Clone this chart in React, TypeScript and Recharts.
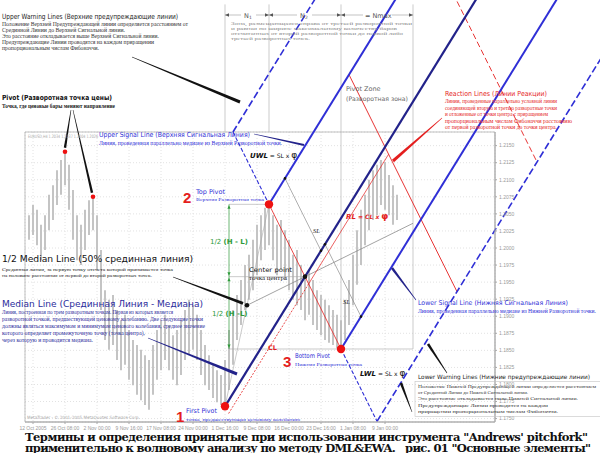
import React from 'react';
import {
  Bar,
  CartesianGrid,
  ComposedChart,
  ReferenceArea,
  ReferenceDot,
  ReferenceLine,
  XAxis,
  YAxis,
} from 'recharts';

// ---- values (EURUSD H4, compressed) ----
const barHigh = [
  1.2048, 1.2063, 1.2056, 1.2034, 1.2048, 1.2078, 1.2092, 1.2114, 1.2129, 1.2141,
  1.2122, 1.2085, 1.2048, 1.2034, 1.2056, 1.207, 1.2075, 1.2048, 1.1997, 1.1938,
  1.1924, 1.1931, 1.1909, 1.1894, 1.1902, 1.188, 1.1865, 1.1858, 1.1851, 1.1843,
  1.1836, 1.1858, 1.188, 1.1894, 1.1902, 1.1887, 1.1872, 1.188, 1.1894, 1.1909,
  1.1924, 1.1916, 1.1902, 1.188, 1.1858, 1.1843, 1.1829, 1.1821, 1.1814, 1.1836,
  1.188, 1.1909, 1.1931, 1.1953, 1.1975, 1.199, 1.2012, 1.2034, 1.2048, 1.2059,
  1.2064, 1.2048, 1.2034, 1.2041, 1.2026, 1.2012, 1.199, 1.1997, 1.1975, 1.196,
  1.1968, 1.1953, 1.1938, 1.1931, 1.1924, 1.1916, 1.1909, 1.1902, 1.1894, 1.1924,
  1.1953, 1.199, 1.2026, 1.2056, 1.2078, 1.21, 1.2114, 1.2122, 1.2129, 1.2126,
  1.2107, 1.2092, 1.2078,
];
const barLow = [
  1.2012, 1.2019, 1.2004, 1.1982, 1.1997, 1.2026, 1.2041, 1.2063, 1.2078, 1.2092,
  1.2056, 1.2012, 1.1982, 1.1975, 1.1997, 1.2019, 1.2026, 1.1968, 1.1909, 1.1865,
  1.1851, 1.1858, 1.1836, 1.1821, 1.1829, 1.1807, 1.1799, 1.1785, 1.1777, 1.177,
  1.1763, 1.1785, 1.1807, 1.1821, 1.1836, 1.1821, 1.1807, 1.1799, 1.1814, 1.1836,
  1.1843, 1.1851, 1.1836, 1.1814, 1.1799, 1.1792, 1.178, 1.1774, 1.177, 1.1768,
  1.1792, 1.1829, 1.1865, 1.1887, 1.1909, 1.1924, 1.1938, 1.196, 1.1982, 1.1997,
  1.2004, 1.1982, 1.196, 1.1968, 1.1953, 1.1938, 1.1924, 1.1916, 1.1909, 1.1894,
  1.1902, 1.1887, 1.188, 1.1872, 1.1865, 1.1861, 1.1858, 1.1853, 1.1852, 1.1865,
  1.1887, 1.1916, 1.1946, 1.1975, 1.2004, 1.2026, 1.2041, 1.2048, 1.2063, 1.2056,
  1.2048, 1.2034, 1.2041,
];
const dateTicks = [2, 10, 18, 26, 34, 42, 50, 58, 66, 74, 82, 90];
const dateLabels = [
  '12 Oct 2005', '26 Oct 08:00', '2 Nov 00:00', '9 Nov 16:00', '17 Nov 08:00', '24 Nov 00:00',
  '1 Dec 16:00', '9 Dec 08:00', '16 Dec 00:00', '23 Dec 16:00', '1 Jan 08:00', '9 Jan 00:00',
];
const priceTicks = [
  1.215, 1.2125, 1.21, 1.2075, 1.205, 1.2025, 1.2, 1.1975, 1.195, 1.1925, 1.19, 1.1875,
  1.185, 1.1825, 1.18, 1.1775, 1.175,
];
const pivotIndex = [50, 61, 79];
const pivotPrice = [1.1768, 1.2064, 1.1852];
const swingIndex = [10, 17];
const swingPrice = [1.2141, 1.2075];
const reactionSteps = [1, 2];

// ---- layout ----
const W = 600;
const H = 453;
const M_LEFT = 25;
const M_TOP = 132;
const PLOT_W = 470;
const PLOT_H = 290;
const X_DOMAIN: [number, number] = [0, 117.5];
const Y_DOMAIN: [number, number] = [1.1745, 1.217];
const SKY = 1.2375; // a bit above the top edge of the picture
const ZONE_TOP = 1.2357;
const DIM_X = 51;

const SANS = "'DejaVu Sans', Verdana, sans-serif";
const SERIF = "'Liberation Serif', 'Times New Roman', serif";
const BLUE = '#2f2fd6';
const NAVY = '#22228a';
const RED = '#e41e1e';
const GREEN = '#2e9a3a';
const GREY = '#8c8c8c';

const bars = barHigh.map((h, k) => ({ i: k + 1, range: [barLow[k], h] }));

// same linear mapping as the chart, for annotation placement
const px = (i: number) => M_LEFT + ((i - X_DOMAIN[0]) / (X_DOMAIN[1] - X_DOMAIN[0])) * PLOT_W;
const py = (p: number) => M_TOP + ((Y_DOMAIN[1] - p) / (Y_DOMAIN[1] - Y_DOMAIN[0])) * PLOT_H;

// ---- pitchfork geometry (data space) ----
type Pt = { x: number; y: number };
const P1: Pt = { x: pivotIndex[0], y: pivotPrice[0] };
const P2: Pt = { x: pivotIndex[1], y: pivotPrice[1] };
const P3: Pt = { x: pivotIndex[2], y: pivotPrice[2] };
const C: Pt = { x: (P2.x + P3.x) / 2, y: (P2.y + P3.y) / 2 };
const D: Pt = { x: C.x - P1.x, y: C.y - P1.y };
const E: Pt = { x: P3.x - P2.x, y: P3.y - P2.y };
const at = (a: number, b: number): Pt => ({
  x: C.x + a * D.x + b * E.x,
  y: C.y + a * D.y + b * E.y,
});
const skyA = (b: number) => (SKY - C.y - b * E.y) / D.y;
const HALF: Pt = { x: (P1.x + P2.x) / 2, y: (P1.y + P2.y) / 2 };
const ZONE_END = P3.x + Math.max(P2.x - P1.x, P3.x - P2.x);
const halfT = (ZONE_END - HALF.x) / (C.x - HALF.x);
const halfEnd: Pt = { x: HALF.x + halfT * (C.x - HALF.x), y: HALF.y + halfT * (C.y - HALF.y) };

type Seg = { key: string; a: Pt; b: Pt; stroke: string; width: number; dash?: string };
const segs: Seg[] = [
  { key: 'n1', a: { x: P1.x, y: ZONE_TOP }, b: { x: P1.x, y: Y_DOMAIN[1] }, stroke: '#b4b4b4', width: 0.7 },
  { key: 'n2', a: { x: P2.x, y: ZONE_TOP }, b: { x: P2.x, y: Y_DOMAIN[1] }, stroke: '#b4b4b4', width: 0.7 },
  { key: 'z1', a: { x: P3.x, y: ZONE_TOP }, b: P3, stroke: '#b4b4b4', width: 0.7 },
  { key: 'z2', a: { x: ZONE_END, y: ZONE_TOP }, b: { x: ZONE_END, y: P3.y }, stroke: '#b4b4b4', width: 0.7 },
  { key: 'z3', a: P3, b: { x: ZONE_END, y: P3.y }, stroke: '#b4b4b4', width: 0.7 },
  { key: 'h2', a: { x: DIM_X, y: P2.y }, b: P2, stroke: '#a8a8a8', width: 0.6 },
  { key: 'hc', a: { x: DIM_X, y: C.y }, b: C, stroke: '#a8a8a8', width: 0.6 },
  { key: 'h3', a: { x: DIM_X, y: P3.y }, b: P3, stroke: '#a8a8a8', width: 0.6 },
  { key: 'g1', a: { x: DIM_X, y: P2.y }, b: { x: DIM_X, y: C.y }, stroke: GREEN, width: 0.7 },
  { key: 'g2', a: { x: DIM_X, y: C.y }, b: { x: DIM_X, y: P3.y }, stroke: GREEN, width: 0.7 },
  { key: 'p12', a: P1, b: P2, stroke: '#a8a8a8', width: 0.6 },
  { key: 'half', a: HALF, b: halfEnd, stroke: GREY, width: 0.8 },
  { key: 'sl1', a: at(0.2, -0.5), b: at(0.2, 0), stroke: GREY, width: 0.7 },
  { key: 'sl2', a: at(0.25, 0), b: at(0.25, 0.5), stroke: GREY, width: 0.7 },
  { key: 'cl1', a: at(-1, 0.05), b: at(0, 0.05), stroke: RED, width: 0.8, dash: '2 1.5' },
  { key: 'cl2', a: at(0, 0.05), b: at(1, 0.05), stroke: RED, width: 0.7 },
  { key: 'wu', a: at(0, -1), b: P2, stroke: BLUE, width: 1.1, dash: '4 2' },
  { key: 'p23', a: P2, b: P3, stroke: RED, width: 0.8 },
  { key: 'wl', a: P3, b: at(0, 1), stroke: BLUE, width: 1.1, dash: '4 2' },
  ...reactionSteps.map((k) => ({
    key: `rl${k}`,
    a: at(k, -0.5),
    b: at(k, 1),
    stroke: RED,
    width: 0.9,
    dash: k > 1 ? '6 3' : undefined,
  })),
  { key: 'uwl', a: at(0, -1), b: at(skyA(-1), -1), stroke: BLUE, width: 1.6, dash: '7 3' },
  { key: 'lwl', a: at(0, 1), b: at(skyA(1), 1), stroke: BLUE, width: 1.6, dash: '7 3' },
  { key: 'usl', a: P2, b: at(skyA(-0.5), -0.5), stroke: BLUE, width: 2 },
  { key: 'lsl', a: P3, b: at(skyA(0.5), 0.5), stroke: BLUE, width: 2 },
  { key: 'ml', a: P1, b: at(skyA(0), 0), stroke: NAVY, width: 2.2 },
];

const dimEnds = [at(0.2, -0.5), at(0.2, 0), at(0.25, 0), at(0.25, 0.5)];

// ---- annotation helpers ----
const taper = (x1: number, y1: number, x2: number, y2: number, w: number) => {
  const dx = x2 - x1;
  const dy = y2 - y1;
  const l = Math.hypot(dx, dy);
  const nx = -dy / l;
  const ny = dx / l;
  const a = 0.25;
  const b = w / 2;
  return `${x1 + nx * a},${y1 + ny * a} ${x2 + nx * b},${y2 + ny * b} ${x2 - nx * b},${y2 - ny * b} ${x1 - nx * a},${y1 - ny * a}`;
};
const triH = (tip: number, y: number, dir: number) =>
  `${tip},${y} ${tip - dir * 4},${y - 1.7} ${tip - dir * 4},${y + 1.7}`;
const triV = (x: number, tip: number, dir: number) =>
  `${x},${tip} ${x - 1.6},${tip - dir * 3.5} ${x + 1.6},${tip - dir * 3.5}`;

type TxtProps = {
  x: number;
  y: number;
  s: number;
  c?: string;
  f?: string;
  w?: number;
  bold?: boolean;
  italic?: boolean;
  adj?: string;
  children: React.ReactNode;
};
const Txt = ({ x, y, s, c = '#222', f = SANS, w, bold, italic, adj = 'spacingAndGlyphs', children }: TxtProps) => (
  <text
    x={x}
    y={y}
    fontSize={s}
    fill={c}
    fontFamily={f}
    fontWeight={bold ? 700 : 400}
    fontStyle={italic ? 'italic' : 'normal'}
    textLength={w}
    lengthAdjust={w ? adj : undefined}
  >
    {children}
  </text>
);

const Lines = ({ x, y, dy, s, c, lines, widths }: { x: number; y: number; dy: number; s: number; c: string; lines: string[]; widths: number[] }) => (
  <>
    {lines.map((t, k) => (
      <Txt key={k} x={x} y={y + k * dy} s={s} c={c} f={SERIF} w={widths[k]}>
        {t}
      </Txt>
    ))}
  </>
);

const pointers = [
  { a: [132, 57], b: [240, 102], w: 3, c: '#111' },
  { a: [71, 110], b: [px(swingIndex[0]), py(swingPrice[0]) - 4], w: 2.4, c: '#111' },
  { a: [73, 110], b: [px(swingIndex[1]) - 1, py(swingPrice[1]) - 4], w: 2.4, c: '#111' },
  { a: [254, 134], b: [304, 145], w: 2.2, c: NAVY },
  { a: [173, 277], b: [px(HALF.x) - 4, py(HALF.y) - 2], w: 3, c: '#111' },
  { a: [148, 338], b: [237, 374], w: 3, c: NAVY },
  { a: [416, 300], b: [392, 268], w: 2.6, c: NAVY },
  { a: [447, 373], b: [428, 344], w: 2.6, c: '#111' },
  { a: [412, 412], b: [401, 383], w: 2.6, c: '#111' },
  { a: [442, 118], b: [393, 161], w: 3, c: RED },
];

const Overlay = () => {
  const gx = px(DIM_X);
  const nY = 15;
  const x1 = px(P1.x);
  const x2 = px(P2.x);
  const x3 = px(P3.x);
  const x4 = px(ZONE_END);
  return (
    <svg width={W} height={H} style={{ position: 'absolute', left: 0, top: 0, pointerEvents: 'none' }}>
      {/* pointers */}
      {pointers.map((p, k) => (
        <polygon key={k} points={taper(p.a[0], p.a[1], p.b[0], p.b[1], p.w)} fill={p.c} />
      ))}

      {/* N1 / N2 / Nmax row */}
      <g stroke="#9a9a9a" strokeWidth={0.6}>
        <line x1={x1} y1={nY} x2={241} y2={nY} />
        <line x1={256} y1={nY} x2={297} y2={nY} />
        <line x1={312} y1={nY} x2={363} y2={nY} />
        <line x1={392} y1={nY} x2={x4} y2={nY} />
      </g>
      <g fill="#555">
        <polygon points={triH(x1, nY, -1)} />
        <polygon points={triH(x2, nY, 1)} />
        <polygon points={triH(x2, nY, -1)} />
        <polygon points={triH(x3, nY, 1)} />
        <polygon points={triH(x3, nY, -1)} />
        <polygon points={triH(x4, nY, 1)} />
      </g>
      <text x={244} y={17.5} fontSize={6.5} fill="#555" fontFamily={SANS}>
        N<tspan fontSize={4.5} dy={1}>1</tspan>
      </text>
      <text x={300} y={17.5} fontSize={6.5} fill="#555" fontFamily={SANS}>
        N<tspan fontSize={4.5} dy={1}>2</tspan>
      </text>
      <Txt x={365} y={17.5} s={6.5} c="#555">= Nmax</Txt>

      {/* green half-range arrows */}
      <g fill={GREEN}>
        <polygon points={triV(gx, py(P2.y) + 1, -1)} />
        <polygon points={triV(gx, py(C.y) - 1, 1)} />
        <polygon points={triV(gx, py(C.y) + 1, -1)} />
        <polygon points={triV(gx, py(P3.y) - 1, 1)} />
      </g>

      {/* top left: upper warning lines */}
      <Txt x={2} y={19} s={7.2} w={176}>Upper Warning Lines (Верхние предупреждающие линии)</Txt>
      <Lines
        x={2}
        y={26}
        dy={6}
        s={5.4}
        c="#333"
        widths={[186, 123, 157, 152, 97]}
        lines={[
          'Положение Верхней Предупреждающей линии определяется расстоянием от',
          'Срединной Линии до Верхней Сигнальной линии.',
          'Это расстояние откладывается выше Верхней Сигнальной линии.',
          'Предупреждающие Линии проводятся на каждом приращении',
          'пропорциональным числам Фибоначчи.',
        ]}
      />

      {/* pivot zone description */}
      <Lines
        x={231}
        y={24.5}
        dy={5}
        s={4.8}
        c="#8a8a8a"
        widths={[181, 166, 172, 79]}
        lines={[
          'Зона, размещающаяся справа от третьей разворотной точки',
          'и равная по ширине максимальному количеству баров',
          'отсчитанных от второй разворотной точки до первой либо',
          'третьей разворотных точек.',
        ]}
      />
      <Txt x={346} y={91} s={6.5} c="#666">Pivot Zone</Txt>
      <Txt x={346} y={101} s={6.2} c="#666" w={62}>(Разворотная зона)</Txt>

      {/* pivot */}
      <Txt x={2} y={100} s={7} c="#111" bold w={110}>Pivot (Разворотная точка цены)</Txt>
      <Txt x={2} y={107.5} s={5.3} c="#222" f={SERIF} bold w={113}>Точка, где ценовые бары меняют направление</Txt>

      <Txt x={28} y={137.5} s={4.6} c="#aaa" w={70}>EURUSD,H4 1.2034 1.2037 1.2004 1.2026</Txt>

      {/* upper signal line */}
      <Txt x={99} y={137} s={7} c={BLUE} w={151}>Upper Signal Line (Верхняя Сигнальная Линия)</Txt>
      <Txt x={99} y={145} s={5.3} c={BLUE} f={SERIF} w={183}>Линия, проведенная параллельно медиане из Верхней Разворотной точки.</Txt>

      <text x={250} y={157.5} fill="#111" fontFamily={SANS}>
        <tspan fontSize={7} fontWeight={700} fontStyle="italic">UWL</tspan>
        <tspan fontSize={6}> = SL x </tspan>
        <tspan fontSize={9}>φ</tspan>
      </text>

      {/* top pivot */}
      <Txt x={183} y={203} s={15} c={RED} f="'Liberation Sans', Arial, sans-serif" bold>2</Txt>
      <Txt x={196} y={194} s={6.5} c={BLUE}>Top Pivot</Txt>
      <Txt x={196} y={201} s={5} c={BLUE} f={SERIF} w={68}>Верхняя Разворотная точка</Txt>

      <text x={210} y={244} fontSize={7} fill={GREEN} fontFamily={SANS}>
        1/2 <tspan fontWeight={700}>(H - L)</tspan>
      </text>
      <text x={212} y={316} fontSize={7} fill={GREEN} fontFamily={SANS}>
        1/2 <tspan fontWeight={700}>(H -L)</tspan>
      </text>

      {/* half median */}
      <Txt x={2} y={262} s={9.5} c="#111" w={191}>1/2 Median Line (50% срединная линия)</Txt>
      <Lines
        x={2}
        y={271}
        dy={5.5}
        s={5}
        c="#222"
        widths={[171, 150]}
        lines={[
          'Срединная линия, за первую точку отсчета которой принимается точка',
          'на половине расстояния от первой до второй разворотных точек.',
        ]}
      />

      <Txt x={249} y={272} s={6.3} c="#111" w={43}>Center point</Txt>
      <Txt x={249} y={280} s={5.3} c="#222" f={SERIF} w={38}>точка центра</Txt>

      {/* median */}
      <Txt x={2} y={307} s={9.5} c="#2b2b9b" w={201}>Median Line (Срединная Линия - Медиана)</Txt>
      <Lines
        x={2}
        y={313.5}
        dy={7}
        s={5.6}
        c="#2b2b9b"
        widths={[171, 201, 203, 143, 91]}
        lines={[
          'Линия, построенная по трем разворотным точкам. Первая из которых является',
          'разворотной точкой, предшествующей ценовому колебанию. Две следующие точки',
          'должны являться максимумом и минимумом ценового колебания, среднее значение',
          'которого определяет промежуточную точку (точка центра),',
          'через которую и проводится медиана.',
        ]}
      />

      <Txt x={268} y={350} s={6.5} c={RED} bold>CL</Txt>

      {/* bottom pivot */}
      <Txt x={283} y={367} s={15} c={RED} f="'Liberation Sans', Arial, sans-serif" bold>3</Txt>
      <Txt x={295} y={358} s={6.5} c={BLUE} w={35}>Bottom Pivot</Txt>
      <Txt x={295} y={365.5} s={5} c={BLUE} f={SERIF} w={67}>Нижняя Разворотная точка</Txt>

      <Txt x={313} y={233} s={6.5} c="#222" f={SERIF} italic>SL</Txt>
      <Txt x={343} y={304} s={6.5} c="#222" f={SERIF} italic>SL</Txt>

      <text x={346} y={219} fill={RED} fontFamily={SANS} fontWeight={700} fontStyle="italic">
        <tspan fontSize={7}>RL</tspan>
        <tspan fontSize={6}> = CL x </tspan>
        <tspan fontSize={9} fontStyle="normal">φ</tspan>
      </text>

      <text x={360} y={376} fill="#111" fontFamily={SANS}>
        <tspan fontSize={7} fontWeight={700} fontStyle="italic">LWL</tspan>
        <tspan fontSize={6}> = SL x </tspan>
        <tspan fontSize={9}>φ</tspan>
      </text>

      {/* first pivot */}
      <Txt x={176} y={422} s={15} c={RED} f="'Liberation Sans', Arial, sans-serif" bold>1</Txt>
      <Txt x={186} y={413} s={6.5} c={BLUE} w={31}>First Pivot</Txt>
      <Txt x={186} y={421} s={5} c={BLUE} f={SERIF} w={114}>точка, предшествующая ценовому колебанию</Txt>

      <Txt x={27} y={418.5} s={4.4} c="#aaa" w={113}>MetaTrader - © 2001-2005 MetaQuotes Software Corp.</Txt>

      {/* reaction lines */}
      <Txt x={445} y={96} s={7} c="#e52525" w={102}>Reaction Lines (Линии Реакции)</Txt>
      <Lines
        x={445}
        y={103}
        dy={6.5}
        s={5.4}
        c="#e52525"
        widths={[112, 112, 103, 127, 112]}
        lines={[
          'Линии, проведенные параллельно условной линии',
          'соединяющей вторую и третью разворотные точки',
          'и отложенные от точки центра с приращением',
          'пропорциональным числам Фибоначчи расстоянию',
          'от первой разворотной точки до точки центра.',
        ]}
      />

      {/* lower signal line */}
      <Txt x={418} y={304.5} s={6.6} c={BLUE} w={150}>Lower Signal Line (Нижняя Сигнальная Линия)</Txt>
      <Txt x={418} y={313} s={5.2} c={BLUE} f={SERIF} w={178}>Линия, проведенная параллельно медиане из Нижней Разворотной точки.</Txt>

      {/* lower warning lines */}
      <Txt x={418} y={378.5} s={6} c="#222" w={172}>Lower Warning Lines (Нижние предупреждающие линии)</Txt>
      <rect x={415} y={381.5} width={200} height={35} fill="none" stroke="#c4c4c4" strokeWidth={0.6} />
      <Lines
        x={418}
        y={388}
        dy={6.2}
        s={5}
        c="#333"
        widths={[178, 110, 160, 130, 140]}
        lines={[
          'Положение Нижней Предупреждающей линии определяется расстоянием',
          'от Срединной Линии до Нижней Сигнальной линии.',
          'Это расстояние откладывается ниже Нижней Сигнальной линии.',
          'Предупреждающие Линии проводятся на каждом',
          'приращении пропорциональным числам Фибоначчи.',
        ]}
      />

      {/* caption */}
      <Txt x={25} y={440.5} s={11.5} c="#111" f="'DejaVu Serif', serif" bold w={563} adj="spacing">
        {'Термины и определения принятые при использовании инструмента "Andrews\' pitchfork"'}
      </Txt>
      <Txt x={25} y={451.5} s={11.5} c="#111" f="'DejaVu Serif', serif" bold w={566} adj="spacing">
        {'применительно к волновому анализу по методу DML&EWA.\u00A0\u00A0\u00A0рис. 01 "Основные элементы"'}
      </Txt>
    </svg>
  );
};

const axisTick = { fontSize: 5, fill: '#9a9a9a', fontFamily: "'Liberation Sans', Arial, sans-serif" };

export default function App() {
  return (
    <div style={{ position: 'relative', width: W, height: H, background: '#fff', overflow: 'hidden' }}>
      <style>{'body{margin:0}'}</style>
      <ComposedChart
        width={W}
        height={H}
        data={bars}
        margin={{ top: M_TOP, right: 70, bottom: 19, left: M_LEFT }}
      >
        <CartesianGrid stroke="#e2e2e2" strokeDasharray="1 2" />
        <XAxis
          dataKey="i"
          type="number"
          domain={X_DOMAIN}
          allowDataOverflow
          ticks={dateTicks}
          interval={0}
          tickFormatter={(v: number) => dateLabels[dateTicks.indexOf(v)] ?? ''}
          height={12}
          tickSize={2}
          tick={axisTick}
          axisLine={{ stroke: '#a8a8a8' }}
          tickLine={{ stroke: '#a8a8a8' }}
        />
        <YAxis
          orientation="right"
          type="number"
          domain={Y_DOMAIN}
          allowDataOverflow
          ticks={priceTicks}
          interval={0}
          width={35}
          tickSize={2}
          tickFormatter={(v: number) => v.toFixed(4)}
          tick={axisTick}
          axisLine={{ stroke: '#a8a8a8' }}
          tickLine={{ stroke: '#a8a8a8' }}
        />
        <ReferenceArea
          x1={X_DOMAIN[0]}
          x2={X_DOMAIN[1]}
          y1={Y_DOMAIN[0]}
          y2={Y_DOMAIN[1]}
          fill="none"
          stroke="#a8a8a8"
          strokeWidth={0.7}
          ifOverflow="visible"
        />
        <Bar dataKey="range" barSize={2} fill="#c4c4c4" isAnimationActive={false} />
        {segs.map((s) => (
          <ReferenceLine
            key={s.key}
            segment={[s.a, s.b]}
            stroke={s.stroke}
            strokeWidth={s.width}
            strokeDasharray={s.dash}
            ifOverflow="visible"
          />
        ))}
        {dimEnds.map((p, k) => (
          <ReferenceDot key={`de${k}`} x={p.x} y={p.y} r={1.3} fill="#111" stroke="none" ifOverflow="visible" />
        ))}
        {swingIndex.map((x, k) => (
          <ReferenceDot key={`sw${k}`} x={x} y={swingPrice[k]} r={2.3} fill="#ee1111" stroke="none" ifOverflow="visible" />
        ))}
        <ReferenceDot x={HALF.x} y={HALF.y} r={2.3} fill="#111" stroke="none" ifOverflow="visible" />
        <ReferenceDot x={C.x} y={C.y} r={2.3} fill="#111" stroke="none" ifOverflow="visible" />
        {pivotIndex.map((x, k) => (
          <ReferenceDot key={`pv${k}`} x={x} y={pivotPrice[k]} r={4.2} fill="#ee1111" stroke="none" ifOverflow="visible" />
        ))}
      </ComposedChart>
      <Overlay />
    </div>
  );
}
